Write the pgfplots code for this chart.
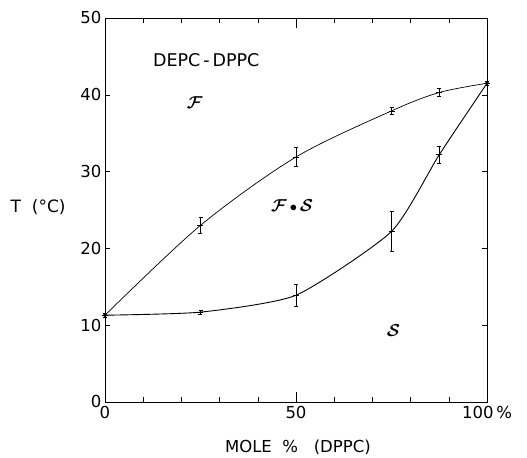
\documentclass[border=0pt]{standalone}
\usepackage{pgfplots}
\pgfplotsset{compat=1.18}
\usepackage{amsmath}
\usepackage{fontspec}
\setmainfont{DejaVu Sans}
\usetikzlibrary{calc}

\pgfplotstableread{
x    y     e
0    11.3  0.3
25   23.0  1.1
50   31.9  1.2
75   37.9  0.5
87.5 40.3  0.5
100  41.5  0.3
}\liquidus

\pgfplotstableread{
x    y     e
0    11.3  0.3
25   11.7  0.3
50   13.9  1.4
75   22.2  2.6
87.5 32.2  1.1
100  41.5  0.3
}\solidus

\begin{document}
\begin{tikzpicture}
\begin{axis}[
  width=382pt, height=384pt, scale only axis,
  xmin=0, xmax=100, ymin=0, ymax=50,
  xtick={0,10,...,100},
  xticklabels={0,,,,,50,,,,,100\,\%},
  extra x ticks={50},
  extra x tick labels={},
  extra x tick style={major tick length=10pt},
  ytick={0,10,...,50},
  tick align=inside,
  major tick length=5pt,
  tick style={black, line width=0.5pt},
  axis line style={line width=0.6pt},
  ticklabel style={font=\fontsize{16.5}{18}\selectfont},
  xticklabel style={yshift=-1pt},
  /pgf/number format/assume math mode=true,
  xlabel={MOLE\ \ \%\ \ \ (DPPC)},
  xlabel style={font=\fontsize{16.5}{18}\selectfont, at={(axis description cs:0.505,-0.117)}, anchor=center},
  ylabel={T\ \ (°C)},
  ylabel style={font=\fontsize{17}{19}\selectfont, rotate=-90, at={(axis description cs:-0.175,0.508)}, anchor=center},
  clip=false,
]
\coordinate (sw) at (rel axis cs:0,0);
\coordinate (ne) at (rel axis cs:1,1);

\addplot[black, line width=0.7pt, smooth, tension=0.5] table[x=x, y=y] {\liquidus};
\addplot[black, line width=0.9pt, smooth, tension=0.35] table[x=x, y=y] {\solidus};

\addplot[black, only marks, mark=-, mark size=3pt, line width=0.8pt,
  error bars/.cd, y dir=both, y explicit,
  error bar style={line width=0.6pt},
  error mark options={black, mark size=2pt, rotate=90, line width=0.6pt}]
  table[x=x, y=y, y error=e] {\liquidus};
\addplot[black, only marks, mark=-, mark size=3pt, line width=0.8pt,
  error bars/.cd, y dir=both, y explicit,
  error bar style={line width=0.6pt},
  error mark options={black, mark size=2pt, rotate=90, line width=0.6pt}]
  table[x=x, y=y, y error=e] {\solidus};
\addplot[black, only marks, mark=*, mark size=1.8pt] coordinates {(0,11.3) (100,41.5)};

\node[font=\fontsize{17.5}{19}\selectfont, anchor=center] at (axis cs:26.5,44.5) {DEPC\,-\,DPPC};
\node[font=\fontsize{19}{21}\selectfont, anchor=center] at (axis cs:23.5,39) {$\boldsymbol{\mathcal{F}}$};
\node[font=\fontsize{19}{21}\selectfont, anchor=center] at (axis cs:49,25.6) {$\boldsymbol{\mathcal{F}}\,{\scriptstyle\bullet}\,\boldsymbol{\mathcal{S}}$};
\node[font=\fontsize{19}{21}\selectfont, anchor=center] at (axis cs:75.5,9.3) {$\boldsymbol{\mathcal{S}}$};
\end{axis}
\pgfresetboundingbox
\path ($(sw)+(-105pt,-56pt)$) rectangle ($(ne)+(40pt,18pt)$);
\end{tikzpicture}
\end{document}
